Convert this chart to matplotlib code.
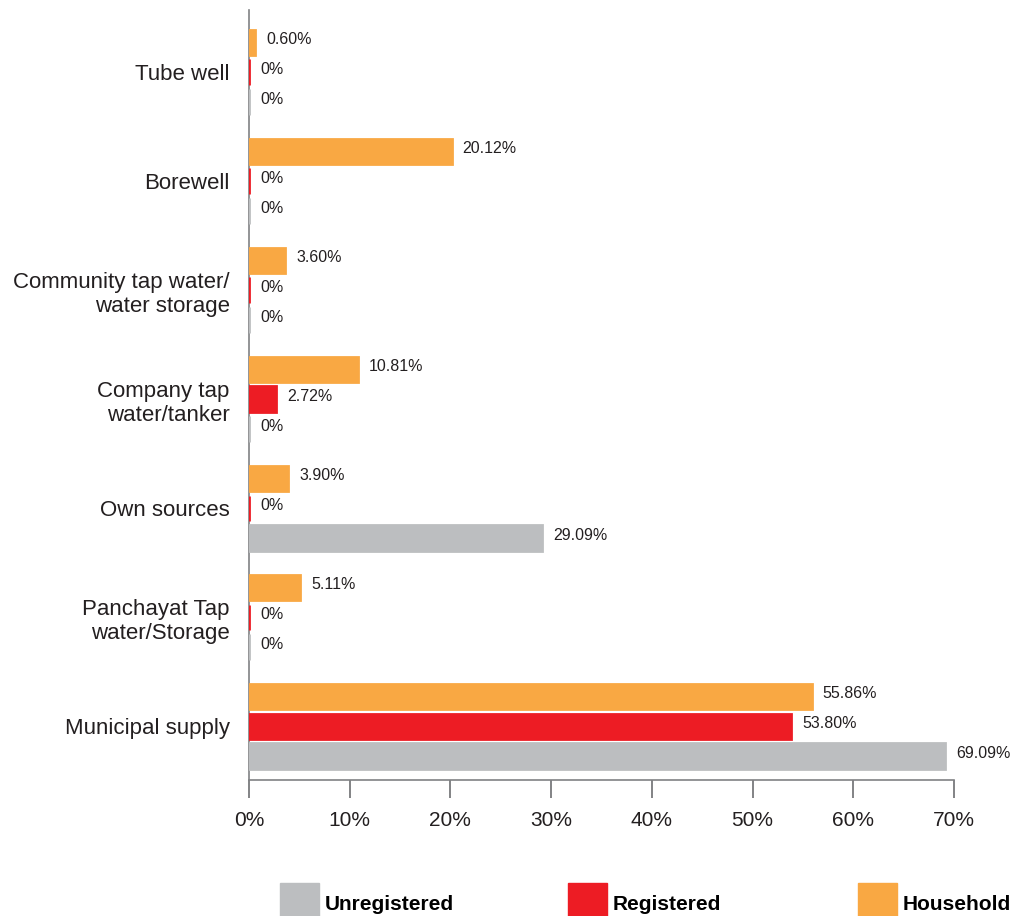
import matplotlib

matplotlib.use("Agg")
import matplotlib.pyplot as plt
from matplotlib.patches import Rectangle

# share of each water source, by respondent group (%)
sources = [
    "Tube well",
    "Borewell",
    "Community tap water/\nwater storage",
    "Company tap\nwater/tanker",
    "Own sources",
    "Panchayat Tap\nwater/Storage",
    "Municipal supply",
]
household = [0.60, 20.12, 3.60, 10.81, 3.90, 5.11, 55.86]
registered = [0, 0, 0, 2.72, 0, 0, 53.80]
unregistered = [0, 0, 0, 0, 29.09, 0, 69.09]
x_ticks = [0, 10, 20, 30, 40, 50, 60, 70]

# (label, values, colour, offset within group) - top bar first
series = [
    ("Household", household, "#F9A843", 0.275),
    ("Registered", registered, "#ED1C24", 0.0),
    ("Unregistered", unregistered, "#BCBEC0", -0.275),
]

plt.rcParams["font.family"] = ["Liberation Sans", "DejaVu Sans"]
TEXT = "#231F20"
AXIS = "#808184"

fig = plt.figure(figsize=(10.26, 9.16), dpi=100)
W, H = 1026, 916
ax = fig.add_axes([249 / W, 136 / H, (954 - 249) / W, (906 - 136) / H])

n = len(sources)
ypos = [n - 1 - i for i in range(n)]

for name, vals, color, off in series:
    ys = [y + off for y in ypos]
    # zorder above the spine so zero-valued bars still show as a sliver
    ax.barh(ys, vals, height=0.23, color=color, edgecolor=color,
            linewidth=2.0, zorder=3)
    for y, v in zip(ys, vals):
        txt = "0%" if v == 0 else f"{v:.2f}%"
        ax.annotate(txt, (v, y), xytext=(8, 2), textcoords="offset points",
                    ha="left", va="center", fontsize=11.5, color=TEXT)

ax.set_xlim(0, 70)
ax.set_ylim(-0.495, n - 1 + 0.569)
ax.set_xticks(x_ticks)
ax.set_xticklabels([f"{t}%" for t in x_ticks], fontsize=15, color=TEXT)
ax.set_yticks(ypos)
ax.set_yticklabels(sources, fontsize=16, color=TEXT, linespacing=1.2)

for side in ("top", "right"):
    ax.spines[side].set_visible(False)
for side in ("left", "bottom"):
    ax.spines[side].set_color(AXIS)
    ax.spines[side].set_linewidth(1.2)
ax.tick_params(axis="x", length=13, width=1.2, color="#6D6E71", pad=9)
ax.tick_params(axis="y", length=0, pad=14)

# legend along the bottom edge, in the order Unregistered / Registered / Household
legend_x = [280, 568, 858]
for (name, _, color, _), lx in zip(reversed(series), legend_x):
    fig.patches.append(Rectangle((lx / W, 0), 39 / W, 33 / H, color=color,
                                 transform=fig.transFigure, figure=fig))
    fig.text((lx + 45) / W, 12 / H, name, fontsize=15, fontweight="bold",
             color="black", ha="left", va="center")

fig.savefig("out.png", dpi=100)
